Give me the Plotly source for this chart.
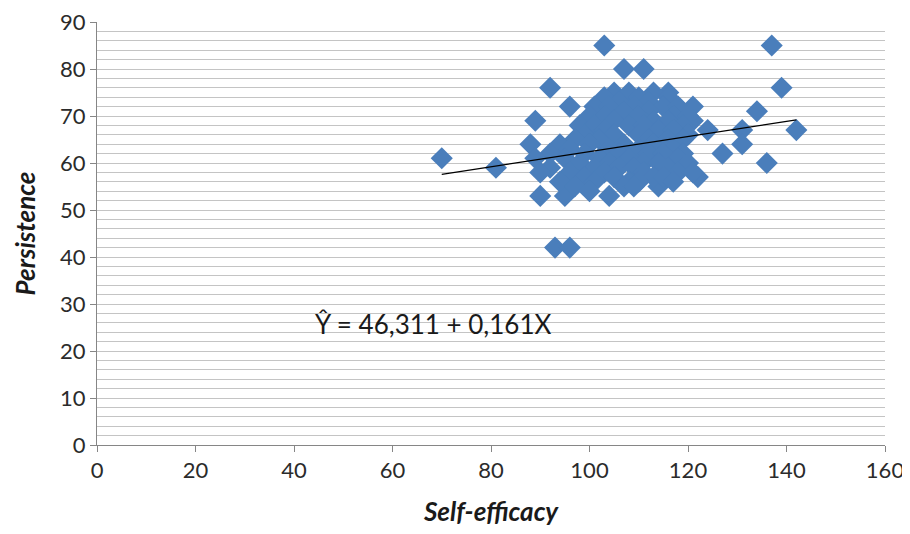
import plotly.graph_objects as go

# Outlying / edge points (Self-efficacy, Persistence)
edge_x = [70, 81, 88, 89, 92, 93, 96, 96, 90, 95, 104, 103, 107, 111, 116,
          137, 139, 134, 136, 142, 131, 131, 127, 124, 121, 121, 122, 114]
edge_y = [61, 59, 64, 69, 76, 42, 42, 72, 53, 53, 53, 85, 80, 80, 75,
          85, 76, 71, 60, 67, 67, 64, 62, 67, 72, 69, 57, 55]

# Dense cluster, listed row by row (persistence value -> self-efficacy values)
cluster_rows = {
    75: [105, 108, 113],
    74: [103, 110, 116],
    73: [106, 112],
    72: [101, 104, 109, 115, 118],
    71: [107, 112],
    70: [100, 103, 110, 117, 120],
    69: [105, 113, 116],
    68: [98, 101, 108, 111, 119],
    67: [103, 114, 117],
    66: [99, 105, 110, 120],
    65: [97, 102, 112, 116, 119],
    64: [94, 100, 107, 113],
    63: [96, 104, 110, 117],
    62: [92, 99, 106, 112, 115, 119],
    61: [89, 95, 102, 108, 118],
    60: [98, 104, 111, 114, 120],
    59: [92, 101, 106, 109, 116],
    58: [90, 96, 103, 111, 118, 121],
    57: [99, 105, 113, 115],
    56: [94, 101, 108, 110, 117],
    55: [97, 107, 109],
    54: [100],
}

self_efficacy = list(edge_x)
persistence = list(edge_y)
for yv, xs in cluster_rows.items():
    for xv in xs:
        self_efficacy.append(xv)
        persistence.append(yv)

# Regression equation shown on the chart
intercept = 46.311
slope = 0.161
trend_x = [70, 142]
trend_y = [intercept + slope * v for v in trend_x]

x_ticks = [0, 20, 40, 60, 80, 100, 120, 140, 160]
y_ticks = [0, 10, 20, 30, 40, 50, 60, 70, 80, 90]

font_family = "Lato, 'Open Sans', sans-serif"

fig = go.Figure()
fig.add_trace(go.Scatter(
    x=self_efficacy, y=persistence, mode="markers",
    marker=dict(symbol="diamond", size=17, color="#4a7ebb",
                line=dict(width=0)),
    showlegend=False,
))
fig.add_trace(go.Scatter(
    x=trend_x, y=trend_y, mode="lines",
    line=dict(color="black", width=1.2),
    showlegend=False,
))

fig.add_annotation(
    x=43.8, y=25.8, xref="x", yref="y",
    text="Ŷ = 46,311 + 0,161X", showarrow=False,
    xanchor="left", yanchor="middle",
    font=dict(family=font_family, size=26, color="#1a1a1a"),
)

fig.update_layout(
    width=910, height=534,
    margin=dict(l=89, r=33, t=14, b=97),
    plot_bgcolor="white", paper_bgcolor="white",
    font=dict(family=font_family, size=22, color="#2b2b2b"),
    xaxis=dict(
        range=[0, 160], tickvals=x_ticks, showgrid=False, zeroline=False,
        automargin=False, ticklabeloverflow="allow",
        showline=True, linecolor="#868686", linewidth=1,
        ticks="outside", ticklen=6, tickcolor="#868686",
        title=dict(text="<b><i>Self-efficacy</i></b>", font=dict(size=26, color="#1a1a1a"),
                   standoff=20),
    ),
    yaxis=dict(
        range=[0, 90], tickvals=y_ticks, showgrid=True, gridcolor="#c4c4c4",
        gridwidth=1, zeroline=False, automargin=False, ticklabeloverflow="allow",
        showline=True, linecolor="#868686", linewidth=1,
        ticks="outside", ticklen=6, tickcolor="#868686",
        minor=dict(dtick=2, showgrid=True, gridcolor="#c4c4c4", gridwidth=1),
        title=dict(text="<b><i>Persistence</i></b>", font=dict(size=26, color="#1a1a1a"),
                   standoff=16),
    ),
)

fig.write_html("out.html")
